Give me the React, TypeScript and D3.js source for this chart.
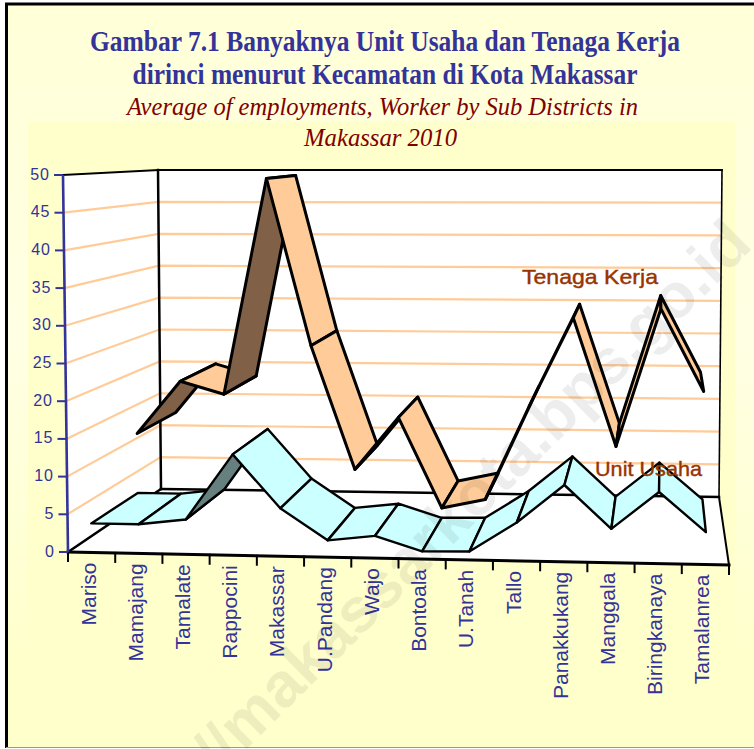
import React, { useEffect, useRef } from "react";
import * as d3 from "d3";

const categories = [
  "Mariso", "Mamajang", "Tamalate", "Rappocini", "Makassar", "U.Pandang", "Wajo",
  "Bontoala", "U.Tanah", "Tallo", "Panakkukang", "Manggala", "Biringkanaya", "Tamalanrea",
];
const unitUsaha = [3.85, 3.85, 4.6, 13.3, 6.3, 2.2, 2.9, 1.0, 1.1, 5.0, 10.0, 4.4, 9.3, 4.2];
const tenagaKerja = [12.4, 20, 18.2, 49.2, 25.3, 7.7, 15.2, 2.4, 3.7, 17, 29.6, 11.5, 31, 19.4];
const yTicks = [0, 5, 10, 15, 20, 25, 30, 35, 40, 45, 50];
const titleLines = ["Gambar 7.1 Banyaknya Unit Usaha dan Tenaga Kerja", "dirinci menurut Kecamatan di Kota Makassar"];
const subtitleLines = ["Average of employments, Worker by Sub Districts in", "Makassar 2010"];

const width = 754;
const height = 749;
const blue = "#333399";
const brown = "#993300";

// box corners of the 3D plot as seen on the page
const frontBottom = { left: [68, 552], right: [729, 565] };
const frontTop = { left: [63, 175], right: [735, 179] };
const backBottom = { left: [161, 489], right: [719, 497] };
const backTop = { left: [158, 170], right: [722, 170] };

const catScale = d3.scaleLinear().domain([0, categories.length]).range([0, 1]);
const valScale = d3.scaleLinear().domain([0, 50]).range([0, 1]);
const lerp = (a: number[], b: number[], t: number) => [a[0] + (b[0] - a[0]) * t, a[1] + (b[1] - a[1]) * t];

// i = category position, d = depth (0 front, 1 back wall), v = value
const project = (i: number, d: number, v: number) => {
  const t = catScale(i);
  const h = valScale(v);
  const front = lerp(lerp(frontBottom.left, frontBottom.right, t), lerp(frontTop.left, frontTop.right, t), h);
  const back = lerp(lerp(backBottom.left, backBottom.right, t), lerp(backTop.left, backTop.right, t), h);
  return lerp(front, back, d);
};

const closed = d3.line().curve(d3.curveLinearClosed);
const open = d3.line();

const App = () => {
  const svgRef = useRef<SVGSVGElement>(null);

  useEffect(() => {
    const svg = d3.select(svgRef.current);
    svg.selectAll("*").remove();

    const defs = svg.append("defs");
    const grad = defs.append("linearGradient").attr("id", "outerBg").attr("x1", 0).attr("x2", 0).attr("y1", 0).attr("y2", 1);
    grad.append("stop").attr("offset", 0).attr("stop-color", "#ffffd8");
    grad.append("stop").attr("offset", 0.45).attr("stop-color", "#ffffe4");
    grad.append("stop").attr("offset", 0.88).attr("stop-color", "#ffffcc");

    svg.append("rect").attr("x", 6).attr("y", 4).attr("width", width).attr("height", height - 5).attr("fill", "url(#outerBg)");
    svg.append("rect").attr("x", 28).attr("y", 122).attr("width", 707).attr("height", height - 123).attr("fill", "#ffffcc");
    svg.append("path").attr("d", open([[6.5, height - 1], [6.5, 4], [width, 4]])).attr("fill", "none").attr("stroke", "#000").attr("stroke-width", 3);
    svg.append("line").attr("x1", 6).attr("x2", width).attr("y1", height - 1.5).attr("y2", height - 1.5).attr("stroke", "#999").attr("stroke-width", 1);

    // titles
    const titleWidths = [590, 505];
    const subWidths = [511, 153];
    titleLines.forEach((t, i) => {
      svg.append("text").text(t).attr("x", 385).attr("y", 51 + i * 32.5)
        .attr("text-anchor", "middle").attr("font-family", "'Liberation Serif'").attr("font-weight", "bold")
        .attr("font-size", 28.5).attr("fill", blue)
        .attr("textLength", titleWidths[i]).attr("lengthAdjust", "spacingAndGlyphs");
    });
    subtitleLines.forEach((t, i) => {
      svg.append("text").text(t).attr("x", i === 0 ? 382.5 : 380.5).attr("y", 115 + i * 31)
        .attr("text-anchor", "middle").attr("font-family", "'Liberation Serif'").attr("font-style", "italic")
        .attr("font-size", 25).attr("fill", "#800000")
        .attr("textLength", subWidths[i]).attr("lengthAdjust", "spacingAndGlyphs");
    });

    // walls and floor
    const wall = (pts: number[][]) =>
      svg.append("path").attr("d", closed(pts as [number, number][])).attr("fill", "#fff");
    wall([frontTop.left, backTop.left, backBottom.left, frontBottom.left]);
    wall([backTop.left, backTop.right, backBottom.right, backBottom.left]);
    wall([frontBottom.left, backBottom.left, backBottom.right, frontBottom.right]);

    // gridlines on side wall and back wall
    const gridG = svg.append("g").attr("fill", "none").attr("stroke", "#ffcc99").attr("stroke-width", 2.2);
    yTicks.filter((v) => v > 0 && v < 50).forEach((v) => {
      gridG.append("path").attr("d", open([project(0, 0, v), project(0, 1, v), project(categories.length, 1, v)] as [number, number][]));
    });

    // box edges
    const edges = svg.append("g").attr("fill", "none").attr("stroke", "#000").attr("stroke-linecap", "square");
    const edge = (a: number[], b: number[], w: number) =>
      edges.append("path").attr("d", open([a, b] as [number, number][])).attr("stroke-width", w);
    edge(frontTop.left, backTop.left, 2);
    edge(backTop.left, backTop.right, 2);
    edge(backTop.left, backBottom.left, 2.5);
    edge(backTop.right, backBottom.right, 1.6);
    edge(frontBottom.left, backBottom.left, 2.5);
    edge(backBottom.left, backBottom.right, 2.5);
    edge(backBottom.right, frontBottom.right, 2);
    edge(frontBottom.left, frontBottom.right, 3);

    // category ticks and labels
    d3.range(categories.length + 1).forEach((i) => {
      const [x, y] = project(i, 0, 0);
      edges.append("line").attr("x1", x).attr("x2", x).attr("y1", y).attr("y2", y + 9).attr("stroke-width", 2);
    });
    categories.forEach((c, i) => {
      const [x, y] = project(i + 0.5, 0, 0);
      svg.append("text").text(c)
        .attr("transform", `translate(${x + 4},${y + 10}) rotate(-90)`)
        .attr("text-anchor", "end").attr("font-family", "'Liberation Sans'")
        .attr("font-size", 21).attr("fill", blue);
    });

    // value axis
    svg.append("path").attr("d", open([frontTop.left, frontBottom.left] as [number, number][]))
      .attr("fill", "none").attr("stroke", blue).attr("stroke-width", 2.6);
    yTicks.forEach((v) => {
      const [x, y] = project(0, 0, v);
      svg.append("line").attr("x1", x - 9).attr("x2", x).attr("y1", y).attr("y2", y).attr("stroke", blue).attr("stroke-width", 2);
      svg.append("text").text(v).attr("x", x - 13).attr("y", y + 4.5)
        .attr("text-anchor", "end").attr("font-family", "'Liberation Sans'").attr("font-size", 16)
        .attr("letter-spacing", 1).attr("fill", blue);
    });

    // ribbons, back series first, left to right
    const ribbon = (values: number[], d0: number, d1: number, fill: string, under: string, sw: number) => {
      const g = svg.append("g").attr("stroke", "#000").attr("stroke-width", sw).attr("stroke-linejoin", "round");
      d3.pairs(values).forEach(([a, b], i) => {
        const pts = [project(i + 0.5, d0, a), project(i + 1.5, d0, b), project(i + 1.5, d1, b), project(i + 0.5, d1, a)];
        // signed area tells whether we look at the top or the underside
        const area = d3.polygonArea(pts as [number, number][]);
        g.append("path").attr("d", closed(pts as [number, number][])).attr("fill", area > 0 ? fill : under);
      });
    };
    ribbon(tenagaKerja, 0.52, 0.95, "#ffcc99", "#806047", 3);
    ribbon(unitUsaha, 0, 0.52, "#ccffff", "#668080", 2.4);

    // series names
    const seriesName = (t: string, x: number, y: number, len: number) =>
      svg.append("text").text(t).attr("x", x).attr("y", y).attr("font-family", "'Liberation Sans'")
        .attr("font-size", 21).attr("fill", brown).attr("stroke", brown).attr("stroke-width", 0.4)
        .attr("textLength", len).attr("lengthAdjust", "spacingAndGlyphs");
    seriesName("Tenaga Kerja", 522, 284, 136);
    seriesName("Unit Usaha", 595, 476, 107);

    // faint site watermark across the chart
    svg.append("text").text("//makassarkota.bps.go.id")
      .attr("transform", "translate(754,247) rotate(-44.7)")
      .attr("text-anchor", "end")
      .attr("font-family", "'Liberation Sans'").attr("font-weight", "bold").attr("font-size", 63)
      .attr("fill", "#000").attr("fill-opacity", 0.07);
  }, []);

  return (
    <svg
      ref={svgRef}
      width={width}
      height={height}
      style={{ position: "absolute", left: 0, top: 0, display: "block", background: "#fff" }}
    ></svg>
  );
};

export default App;
